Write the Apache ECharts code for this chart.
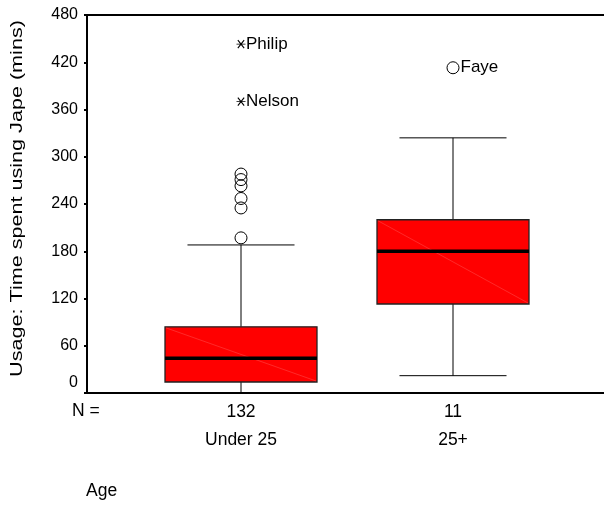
<!DOCTYPE html>
<html>
<head>
<meta charset="utf-8">
<script src="https://cdn.jsdelivr.net/npm/echarts@6/dist/echarts.min.js"></script>
<style>
  html, body { margin: 0; padding: 0; background: #fff; }
  #chart { width: 604px; height: 507px; }
</style>
</head>
<body>
<div id="chart"></div>
<script>
// Age groups and group sizes
const categories = ['Under 25', '25+'];
const counts = [132, 11];
// Five-number summaries per group: [lower whisker, Q1, median, Q3, upper whisker]
const boxStats = [
  [0, 14, 44, 84, 188],
  [22, 113, 180, 220, 324]
];
// Outliers (circles): [group index, minutes, name]
const outliers = [
  [0, 197, ''],
  [0, 235, ''],
  [0, 247, ''],
  [0, 263, ''],
  [0, 271, ''],
  [0, 278, ''],
  [1, 413, 'Faye']
];
// Extreme values (asterisks): [group index, minutes, name]
const extremes = [
  [0, 443, 'Philip'],
  [0, 370, 'Nelson']
];
// Y axis range and step
const yMin = 0, yMax = 480, yStep = 60;
const yTitle = 'Usage: Time spent using Jape (mins)';

const FONT = 'Liberation Sans, Arial, sans-serif';
const chart = echarts.init(document.getElementById('chart'), null, { renderer: 'canvas' });

const boxData = boxStats.map((s, i) => [i].concat(s));

function renderBox(params, api) {
  const x = api.value(0);
  const lo = api.coord([x, api.value(1)]);
  const q1 = api.coord([x, api.value(2)]);
  const md = api.coord([x, api.value(3)]);
  const q3 = api.coord([x, api.value(4)]);
  const hi = api.coord([x, api.value(5)]);
  const band = api.size([1, 0])[0];
  const bw = band * 0.717;
  const cw = band * 0.505;
  const cx = lo[0];
  const thin = { stroke: '#000', lineWidth: 1 };
  return {
    type: 'group',
    children: [
      { type: 'line', shape: { x1: cx, y1: lo[1], x2: cx, y2: q1[1] }, style: thin },
      { type: 'line', shape: { x1: cx, y1: q3[1], x2: cx, y2: hi[1] }, style: thin },
      { type: 'line', shape: { x1: cx - cw / 2, y1: lo[1], x2: cx + cw / 2, y2: lo[1] }, style: thin },
      { type: 'line', shape: { x1: cx - cw / 2, y1: hi[1], x2: cx + cw / 2, y2: hi[1] }, style: thin },
      { type: 'rect', shape: { x: cx - bw / 2, y: q3[1], width: bw, height: q1[1] - q3[1] },
        style: { fill: '#ff0000', stroke: '#222', lineWidth: 1.3 } },
      { type: 'line', shape: { x1: cx - bw / 2 + 1, y1: q3[1] + 1, x2: cx + bw / 2 - 1, y2: q1[1] - 1 },
        style: { stroke: 'rgba(255,150,150,0.55)', lineWidth: 0.5 } },
      { type: 'line', shape: { x1: cx - bw / 2, y1: md[1], x2: cx + bw / 2, y2: md[1] },
        style: { stroke: '#000', lineWidth: 3.5 } }
    ]
  };
}

const option = {
  animation: false,
  backgroundColor: '#fff',
  textStyle: { fontFamily: FONT },
  grid: [
    { left: 87, right: 0, top: 15, bottom: 114 },
    { left: 135, right: 45, top: 15, bottom: 114 }
  ],
  xAxis: [
    { gridIndex: 0, type: 'value', min: 0, max: 1, position: 'bottom',
      axisLine: { show: true, lineStyle: { color: '#000', width: 2 } },
      axisTick: { show: false }, axisLabel: { show: false }, splitLine: { show: false } },
    { gridIndex: 0, type: 'value', min: 0, max: 1, position: 'top',
      axisLine: { show: true, lineStyle: { color: '#000', width: 2 } },
      axisTick: { show: false }, axisLabel: { show: false }, splitLine: { show: false } },
    { gridIndex: 1, type: 'category', data: categories,
      axisLine: { show: false }, axisTick: { show: false }, splitLine: { show: false },
      axisLabel: {
        margin: 5,
        formatter: (v, i) => '{n|' + counts[i] + '}\n{c|' + v + '}',
        rich: {
          n: { fontSize: 17.5, lineHeight: 28, color: '#000', fontFamily: FONT },
          c: { fontSize: 17.5, lineHeight: 28, color: '#000', fontFamily: FONT }
        }
      } }
  ],
  yAxis: [
    { gridIndex: 0, type: 'value', min: yMin, max: yMax, interval: yStep,
      axisLine: { show: true, lineStyle: { color: '#000', width: 2 } },
      axisTick: { show: true, length: 3, lineStyle: { color: '#000', width: 2 } },
      splitLine: { show: false },
      axisLabel: {
        margin: 9, fontSize: 16, color: '#000', fontFamily: FONT,
        formatter: v => v === 0 ? '{z|0}' : String(v),
        rich: { z: { fontSize: 16, color: '#000', fontFamily: FONT, padding: [0, 0, 20, 0] } }
      } },
    { gridIndex: 1, type: 'value', min: yMin, max: yMax, interval: yStep, show: false }
  ],
  series: [
    { type: 'custom', xAxisIndex: 2, yAxisIndex: 1, renderItem: renderBox,
      encode: { x: 0, y: [1, 2, 3, 4, 5] }, data: boxData, z: 2 },
    { type: 'scatter', xAxisIndex: 2, yAxisIndex: 1, symbol: 'circle', symbolSize: 12,
      itemStyle: { color: 'rgba(0,0,0,0)', borderColor: '#000', borderWidth: 1, opacity: 1 },
      label: { show: true, position: 'right', distance: 1, fontSize: 17, color: '#000', fontFamily: FONT,
        formatter: p => p.value[2] },
      data: outliers, z: 3 },
    { type: 'scatter', xAxisIndex: 2, yAxisIndex: 1,
      symbol: 'path://M0,5 L10,5 M1.5,0 L8.5,10 M8.5,0 L1.5,10', symbolSize: [9, 8],
      itemStyle: { color: 'rgba(0,0,0,0)', borderColor: '#000', borderWidth: 1, opacity: 1 },
      label: { show: true, position: 'right', distance: 0, fontSize: 17, color: '#000', fontFamily: FONT,
        formatter: p => p.value[2] },
      data: extremes, z: 3 }
  ],
  graphic: [
    // rotated axis title, drawn with a slight stretch along its baseline
    { type: 'text', x: 17.5, y: 198.5, rotation: Math.PI / 2, scaleX: 1.27,
      style: { text: yTitle, fontSize: 17, fill: '#000', fontFamily: FONT,
        align: 'center', verticalAlign: 'middle' } },
    { type: 'text', left: 72, top: 402, style: { text: 'N =', fontSize: 17.5, fill: '#000', fontFamily: FONT } },
    { type: 'text', left: 86, top: 482, style: { text: 'Age', fontSize: 17.5, fill: '#000', fontFamily: FONT } }
  ]
};
chart.setOption(option);
</script>
</body>
</html>
